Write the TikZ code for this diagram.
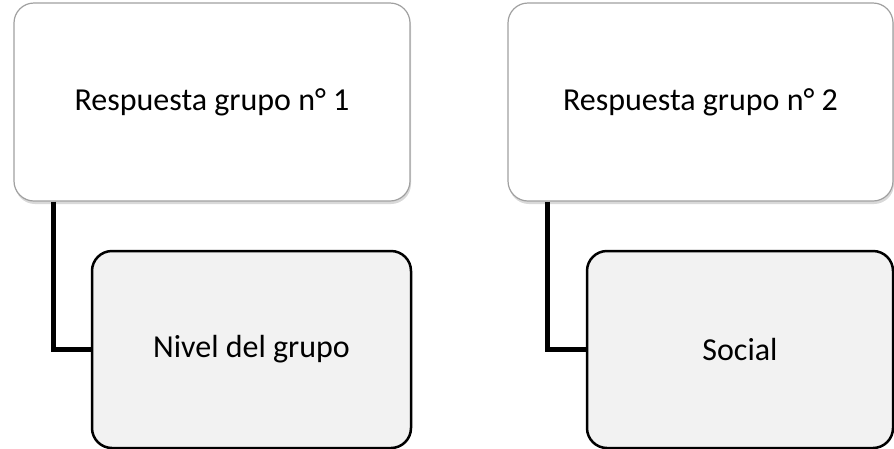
\documentclass[tikz,border=0pt]{standalone}
\usepackage{fontspec}
\setmainfont{Carlito}
\usepackage{xcolor}
\usetikzlibrary{shadows, calc}
\definecolor{framegray}{RGB}{160,160,160}
\definecolor{subfill}{RGB}{242,242,242}

\begin{document}
\begin{tikzpicture}[
    x=1pt, y=-1pt,
    answer/.style={draw=framegray, line width=1.2pt, fill=white, rounded corners=20pt,
        drop shadow={shadow xshift=1pt, shadow yshift=-3pt, opacity=0.3},
        minimum height=198pt, align=center, font=\fontsize{32}{36}\selectfont},
    topic/.style={draw=black, line width=2.5pt, fill=subfill, rounded corners=20pt,
        minimum height=197pt, align=center, font=\fontsize{32}{36}\selectfont},
    link/.style={line width=5pt}
]
    \useasboundingbox (0,0) rectangle (894,448);

    \node[answer, minimum width=396pt] (grupo1) at (212,102) {Respuesta grupo n° 1};
    \node[answer, minimum width=385pt] (grupo2) at (700.5,102) {Respuesta grupo n° 2};

    \node[topic, minimum width=319pt] (nivel) at (251.5,349.5) {Nivel del grupo};
    \node[topic, minimum width=306pt] (social) at (740,349.5) {Social};

    \draw[link] ($(grupo1.south west)+(40,0)$) |- (nivel.west);
    \draw[link] ($(grupo2.south west)+(40,0)$) |- (social.west);
\end{tikzpicture}
\end{document}
